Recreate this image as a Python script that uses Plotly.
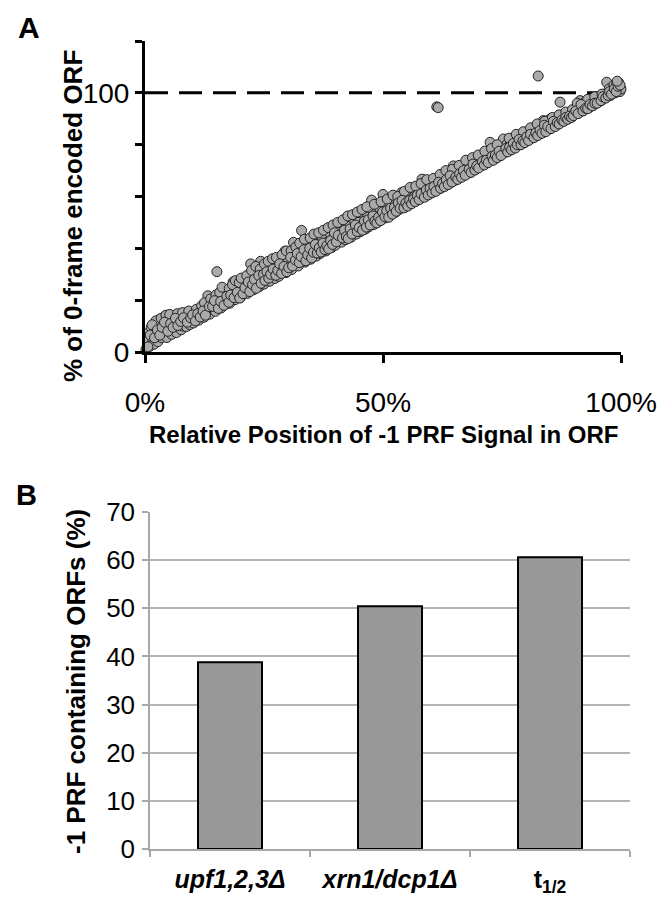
import plotly.graph_objects as go

# ---------------- Panel A data ----------------
rel_pos = [
    0.2, 0.5, 0.8, 1.0, 1.3, 1.6, 1.9, 2.1, 2.4, 2.7, 3.0, 3.2, 3.5, 3.8, 4.0, 4.3, 4.6, 5.0, 5.3, 5.6,
    6.0, 6.2, 6.6, 7.0, 7.3, 7.6, 8.0, 8.4, 8.7, 9.0, 9.4, 9.8, 10.2, 10.5, 10.9, 11.3, 11.7, 12.0, 12.4, 12.8,
    13.2, 13.3, 13.6, 14.0, 14.4, 14.8, 15.1, 15.2, 15.6, 16.0, 16.4, 16.8, 17.0, 17.4, 17.8, 18.2, 18.5, 18.9, 19.2, 19.6,
    20.0, 20.4, 20.8, 21.2, 21.5, 21.9, 22.2, 22.5, 22.8, 23.2, 23.6, 24.0, 24.3, 24.6, 25.0, 25.4, 25.8, 26.2, 26.6, 27.0,
    27.3, 27.7, 28.1, 28.5, 28.9, 29.4, 29.6, 30.0, 30.4, 30.8, 31.2, 31.4, 31.8, 32.2, 32.6, 32.9, 33.2, 33.6, 34.0, 34.4,
    34.8, 35.2, 35.6, 36.0, 36.4, 36.8, 37.2, 37.6, 38.0, 38.4, 38.8, 39.2, 39.6, 40.0, 40.4, 40.8, 41.0, 41.3, 41.7, 42.1,
    42.5, 42.9, 43.3, 43.8, 44.0, 44.4, 44.8, 45.2, 45.5, 45.9, 46.3, 46.7, 47.0, 47.6, 47.7, 48.1, 48.5, 48.9, 49.3, 49.7,
    50.0, 50.2, 50.6, 51.0, 51.4, 51.8, 52.2, 52.6, 53.0, 53.4, 53.9, 54.2, 54.6, 55.0, 55.4, 55.8, 56.2, 56.6, 57.0, 57.4,
    57.8, 58.2, 58.5, 58.9, 59.3, 59.7, 60.1, 60.5, 60.9, 61.3, 61.6, 61.5, 61.9, 62.3, 62.7, 63.1, 63.5, 63.9, 64.3, 64.8,
    65.1, 65.5, 65.9, 66.3, 66.7, 67.1, 67.6, 67.9, 68.3, 68.7, 69.1, 69.5, 69.9, 70.4, 70.7, 71.1, 71.5, 71.9, 72.5, 72.6,
    73.0, 73.4, 73.8, 74.2, 74.6, 75.0, 75.3, 75.6, 76.0, 76.4, 76.8, 77.2, 77.6, 78.0, 78.4, 78.8, 79.2, 79.6, 80.0, 80.4,
    80.8, 81.2, 81.5, 81.9, 82.3, 82.6, 82.8, 83.2, 83.7, 84.0, 84.4, 84.8, 85.1, 85.5, 86.0, 86.4, 86.8, 87.2, 87.3, 87.8,
    88.2, 88.6, 89.0, 89.4, 89.8, 90.3, 90.8, 91.2, 91.4, 91.8, 92.2, 92.4, 92.8, 93.3, 93.7, 94.2, 94.9, 95.3, 95.6, 96.0,
    96.5, 97.0, 97.0, 97.5, 97.8, 98.3, 98.5, 98.8, 99.1, 99.3, 99.6, 99.8, 100.0, 99.5,
]
pct_encoded = [
    1.0, 4.0, 7.5, 2.2, 9.5, 5.0, 3.0, 11.0, 7.0, 4.0, 12.5, 9.0, 5.5, 11.0, 13.5, 7.5, 5.6, 10.0, 13.0, 6.8,
    14.0, 9.0, 7.5, 11.5, 13.8, 8.6, 10.0, 15.0, 9.8, 12.8, 10.6, 14.2, 11.2, 15.0, 13.0, 12.3, 16.3, 14.0, 13.4, 17.0,
    21.7, 15.2, 14.6, 19.0, 16.5, 15.7, 31.0, 20.5, 17.5, 17.0, 22.0, 24.0, 18.5, 20.0, 18.8, 23.0, 27.0, 20.2, 25.0, 21.5,
    21.0, 26.0, 23.5, 28.0, 22.6, 25.0, 34.0, 29.0, 24.0, 26.5, 31.0, 25.2, 35.0, 28.5, 26.2, 32.0, 29.0, 27.3, 34.5, 30.5,
    28.4, 33.0, 29.2, 36.0, 31.5, 38.9, 30.6, 35.0, 33.0, 31.8, 42.3, 37.5, 34.0, 33.2, 39.0, 46.9, 36.0, 34.7, 41.0, 38.0,
    35.8, 43.0, 39.5, 37.0, 41.0, 38.0, 44.5, 40.0, 39.0, 42.5, 46.0, 40.3, 44.0, 41.2, 47.5, 43.0, 49.9, 42.4, 45.5, 43.3,
    48.5, 46.0, 44.3, 51.2, 47.5, 45.5, 50.0, 46.4, 54.0, 49.0, 47.4, 52.0, 48.3, 58.6, 50.5, 49.2, 53.5, 50.2, 55.5, 51.0,
    60.8, 53.0, 51.8, 56.0, 52.8, 54.5, 58.0, 53.9, 56.5, 55.0, 61.5, 57.0, 56.0, 59.5, 56.8, 61.0, 57.8, 60.0, 58.4, 62.0,
    59.2, 66.7, 61.5, 60.2, 64.0, 61.0, 62.5, 65.5, 62.2, 94.6, 94.3, 64.0, 63.0, 67.0, 64.2, 65.5, 68.5, 65.0, 67.0, 71.8,
    66.2, 69.0, 67.0, 70.5, 68.0, 69.5, 73.1, 69.0, 72.0, 70.0, 71.5, 70.6, 73.5, 74.4, 72.0, 73.0, 75.5, 73.0, 80.9, 76.0,
    74.2, 77.0, 75.0, 78.5, 76.0, 79.0, 82.2, 77.0, 80.0, 77.8, 81.0, 79.0, 82.0, 79.2, 81.5, 80.2, 83.0, 81.0, 84.5, 82.0,
    83.5, 82.5, 86.0, 83.3, 85.0, 106.5, 84.0, 87.0, 89.3, 85.3, 88.0, 86.0, 89.9, 87.2, 88.5, 87.6, 90.0, 96.4, 88.5, 90.5,
    89.4, 91.5, 90.2, 92.0, 91.0, 92.5, 95.0, 92.4, 97.0, 94.0, 93.3, 96.4, 95.0, 94.3, 96.0, 95.2, 96.4, 96.5, 97.7, 97.2,
    98.0, 98.5, 104.1, 101.5, 99.0, 100.9, 103.0, 100.0, 103.5, 101.0, 102.2, 100.5, 101.5, 104.0,
]
# more points from the dense middle of the band
rel_pos_band = [
    0.6, 1.1, 1.5, 2.0, 2.6, 3.1, 3.6, 4.1, 4.8, 5.4, 5.9, 6.4, 6.9, 7.5, 8.1, 8.9, 9.6, 10.0,
    10.6, 11.1, 11.6, 12.2, 12.7, 13.5, 14.2, 14.6, 15.4, 15.9, 16.6, 17.2, 17.6, 18.0, 18.7, 19.4, 19.9,
    20.6, 21.0, 21.7, 22.0, 22.6, 23.0, 23.4, 23.9, 24.4, 24.9, 25.2, 25.6, 26.0, 26.4, 26.9, 27.5, 27.9, 28.3, 28.7, 29.2, 29.8,
    30.2, 30.6, 31.0, 31.6, 32.0, 32.4, 32.8, 33.4, 33.8, 34.2, 34.6, 35.0, 35.4, 35.8, 36.2, 36.6, 37.0, 37.4, 37.8, 38.2,
    38.6, 39.0, 39.4, 39.8,
    40.2, 40.6, 41.5, 41.9, 42.3, 42.7, 43.1, 43.5, 44.2, 44.6, 45.0, 45.7, 46.1, 46.5, 46.9, 47.3, 47.9, 48.3, 48.7, 49.1,
    49.5, 49.9,
    50.4, 50.8, 51.2, 51.6, 52.0, 52.4, 52.8, 53.2, 53.6, 54.0, 54.4, 54.8, 55.2, 55.6, 56.0, 56.4, 56.8, 57.2, 57.6, 58.0,
    58.7, 59.1, 59.5, 59.9,
    60.3, 60.7, 61.1, 61.7, 62.1, 62.5, 62.9, 63.3, 63.7, 64.1, 64.5, 65.3, 65.7, 66.1, 66.5, 66.9, 67.3, 68.1, 68.5, 68.9,
    69.3, 69.7, 70.1, 70.9, 71.3, 71.7, 72.1, 72.9, 73.2, 73.6, 74.0, 74.4, 74.8, 75.8, 76.2, 76.6, 77.0, 77.4, 77.8, 78.2,
    78.6, 79.0, 79.4, 79.8,
    80.2, 80.6, 81.0, 81.7, 82.1, 82.5, 83.0, 83.4, 83.9, 84.2, 84.6, 85.3, 85.8, 86.2, 86.6, 87.0, 87.6, 88.0, 88.4, 88.8,
    89.2, 89.6, 90.0, 90.5, 91.0, 91.6, 92.0, 92.6, 93.0, 93.5, 94.0, 94.5, 95.0, 95.8, 96.2, 96.8, 97.3, 97.6, 98.0, 98.6,
    99.0, 99.4, 99.8, 99.2,
]
pct_encoded_band = [
    2.0, 6.5, 10.5, 5.5, 8.5, 6.5, 9.5, 11.5, 8.0, 11.0, 9.5, 13.0, 10.2, 11.8, 13.2, 11.5, 13.2, 14.3,
    12.0, 14.8, 13.5, 15.8, 14.2, 17.5, 17.6, 19.8, 16.8, 19.5, 18.0, 21.5, 19.2, 22.0, 21.0, 23.0, 20.8,
    22.5, 24.8, 27.0, 23.3, 26.0, 28.0, 24.6, 29.5, 26.5, 30.0, 27.6, 31.0, 28.5, 30.0, 32.0, 29.6, 31.5, 34.0, 30.3, 33.0, 31.0,
    32.5, 36.5, 33.2, 35.5, 38.0, 34.5, 36.8, 39.5, 35.2, 37.5, 40.0, 36.3, 38.5, 41.5, 38.2, 40.2, 38.6, 42.0, 39.5, 41.0,
    39.8, 43.0, 41.5, 46.0,
    42.5, 45.0, 44.0, 47.0, 44.5, 43.8, 47.5, 45.5, 49.0, 46.5, 48.0, 47.0, 50.5, 48.2, 51.0, 49.0, 52.5, 50.5, 49.8, 52.0,
    50.7, 54.0,
    52.2, 54.5, 52.0, 55.5, 53.2, 55.8, 54.3, 57.5, 55.5, 58.5, 55.6, 57.5, 56.3, 58.5, 57.2, 59.0, 58.0, 60.5, 58.8, 61.0,
    59.7, 62.5, 60.6, 63.2,
    61.4, 63.8, 62.0, 65.5, 63.2, 65.0, 63.8, 66.5, 64.6, 68.0, 65.6, 67.5, 66.6, 68.8, 67.4, 70.0, 68.2, 70.5, 69.3, 72.5,
    70.2, 71.8, 71.0, 73.5, 72.2, 74.0, 73.1, 75.5, 74.0, 76.0, 75.0, 77.5, 75.8, 78.5, 77.2, 79.0, 78.0, 80.5, 78.7, 80.0,
    82.0, 80.0, 81.5, 80.8,
    83.0, 81.6, 84.0, 82.7, 84.5, 83.5, 85.5, 84.4, 87.5, 85.0, 87.0, 86.2, 89.0, 87.0, 88.5, 88.0, 89.5, 89.0, 90.5, 89.8,
    91.0, 90.5, 91.2, 93.0, 92.0, 95.5, 93.0, 94.0, 93.9, 95.5, 95.0, 96.0, 96.0, 97.0, 98.5, 98.0, 99.0, 100.5, 99.5, 101.5,
    100.5, 102.5, 103.0, 104.5,
]
# points along the upper, ragged edge of the band
rel_pos_upper = [
    2.3, 3.4, 4.4, 5.2, 6.8, 7.9, 9.2,
    10.8, 11.9, 12.5, 13.8, 14.9, 15.7, 16.2, 17.7, 18.4, 19.0, 19.8,
    20.2, 21.4, 22.4, 23.3, 24.2, 25.1, 25.9, 26.8, 27.6, 28.8, 29.7,
    30.7, 31.7, 32.5, 33.5, 34.7, 35.5, 36.5, 37.5, 38.5, 39.5,
    40.5, 41.6, 42.6, 43.6, 44.6, 45.6, 46.6, 48.2, 49.6,
    50.9, 52.1, 53.1, 54.5, 55.7, 56.9, 58.0, 59.2,
    60.6, 62.0, 63.2, 64.6, 66.0, 67.4, 68.8, 70.0, 71.4, 72.8, 74.0,
    76.5, 78.0, 79.5, 81.0, 82.4, 84.0, 85.6, 87.0, 88.4, 89.8,
    90.8, 93.0, 94.5, 96.0,
]
pct_encoded_upper = [
    12.0, 13.0, 14.2, 14.5, 14.8, 15.2, 15.8,
    16.5, 17.8, 19.0, 20.5, 22.0, 23.0, 25.0, 24.5, 26.0, 27.5, 26.8,
    28.5, 29.5, 31.5, 33.0, 32.0, 34.0, 35.0, 36.0, 36.5, 37.5, 39.0,
    39.0, 40.5, 42.0, 43.5, 44.0, 45.5, 46.0, 47.0, 48.0, 49.0,
    50.0, 51.0, 52.5, 53.0, 54.0, 55.0, 56.0, 57.0, 58.0,
    59.0, 60.5, 60.0, 62.0, 63.5, 64.0, 65.0, 66.5,
    67.0, 68.5, 70.0, 70.5, 72.0, 74.0, 75.0, 76.0, 77.5, 78.5, 80.0,
    82.5, 84.0, 85.0, 86.5, 88.0, 89.0, 90.5, 91.5, 92.6, 93.5,
    96.0, 97.5, 98.5, 99.5,
]
ref_x = [0, 100]
ref_y = [100, 100]
a_xticks = [0, 50, 100]
a_xtick_text = ["0%", "50%", "100%"]
a_yticks = [0, 100]
a_ytick_text = ["0", "100"]
a_yminor = [20, 40, 60, 80, 120]

# ---------------- Panel B data ----------------
categories = ["upf1,2,3Δ", "xrn1/dcp1Δ", "t1/2"]
cat_labels = ["<b><i>upf1,2,3Δ</i></b>", "<b><i>xrn1/dcp1Δ</i></b>", "<b>t<sub>1/2</sub></b>"]
prf_pct = [38.8, 50.4, 60.6]

# The page body puts the figure 8 px in from the window's top-left corner; the
# figure is sized so that the page does not overflow the 672x904 window.
OFF = 8
W, H = 656, 888
FONT = "Liberation Sans, Arial, Helvetica, sans-serif"


def fx(p):
    return (p - OFF) / W


def fy(p):
    return 1 - (p - OFF) / H


fig = go.Figure()
fig.add_trace(go.Scatter(
    x=ref_x, y=ref_y, mode="lines",
    line=dict(color="black", width=3, dash="23px,11px"),
    xaxis="x", yaxis="y", hoverinfo="skip", showlegend=False))
fig.add_trace(go.Scatter(
    x=rel_pos + rel_pos_upper + rel_pos_band,
    y=pct_encoded + pct_encoded_upper + pct_encoded_band, mode="markers",
    marker=dict(size=10, color="#aaaaaa", line=dict(color="#222222", width=1)),
    cliponaxis=False, xaxis="x", yaxis="y", showlegend=False))
fig.add_trace(go.Bar(
    x=categories, y=prf_pct, width=0.4,
    marker=dict(color="#999999", line=dict(color="black", width=2)),
    xaxis="x2", yaxis="y2", showlegend=False))

fig.update_layout(
    width=W, height=H,
    margin=dict(l=0, r=0, t=0, b=0, pad=0, autoexpand=False),
    paper_bgcolor="white", plot_bgcolor="white",
    font=dict(family=FONT, color="black"),
    xaxis=dict(
        domain=[fx(145), fx(621)], range=[0, 100], anchor="y", automargin=False,
        showline=True, linecolor="black", linewidth=3,
        ticks="outside", ticklen=8, tickwidth=3, tickcolor="black",
        tickvals=a_xticks, ticktext=a_xtick_text, tickangle=0,
        tickfont=dict(size=28), ticklabelstandoff=15,
        showgrid=False, zeroline=False,
    ),
    yaxis=dict(
        domain=[fy(352), fy(41)], range=[0, 120], anchor="x", automargin=False,
        showline=True, linecolor="black", linewidth=3,
        ticks="outside", ticklen=7, tickwidth=3, tickcolor="black",
        tickvals=a_yticks, ticktext=a_ytick_text,
        minor=dict(tickvals=a_yminor, ticks="outside", ticklen=7, tickwidth=3,
                   tickcolor="black", showgrid=False),
        tickfont=dict(size=28), ticklabelstandoff=0,
        showgrid=False, zeroline=False,
    ),
    xaxis2=dict(
        domain=[fx(150), fx(630)], anchor="y2", type="category", automargin=False,
        showline=True, linecolor="#a8a8a8", linewidth=1.5,
        ticks="outside", tickson="boundaries", ticklen=6, tickwidth=1.5, tickcolor="#a8a8a8",
        tickvals=categories, ticktext=cat_labels, tickangle=0,
        tickfont=dict(size=25), ticklabelstandoff=7,
        showgrid=False, zeroline=False,
    ),
    yaxis2=dict(
        domain=[fy(849), fy(512)], range=[0, 70], anchor="x2", automargin=False,
        tick0=0, dtick=10,
        showline=True, linecolor="#a8a8a8", linewidth=1.5,
        ticks="outside", ticklen=6, tickwidth=1.5, tickcolor="#a8a8a8",
        tickfont=dict(size=26), ticklabelstandoff=2,
        showgrid=True, gridcolor="#b4b4b4", gridwidth=1.5, zeroline=False,
    ),
    annotations=[
        dict(text="<b>A</b>", x=fx(29), y=fy(28), xref="paper", yref="paper",
             xanchor="center", yanchor="middle", showarrow=False, font=dict(size=30)),
        dict(text="<b>B</b>", x=fx(26), y=fy(495), xref="paper", yref="paper",
             xanchor="center", yanchor="middle", showarrow=False, font=dict(size=29)),
        dict(text="<b>% of 0-frame encoded ORF</b>", x=fx(73), y=fy(216), xref="paper", yref="paper",
             xanchor="center", yanchor="middle", textangle=-90, showarrow=False, font=dict(size=26)),
        dict(text="<b>Relative Position of -1 PRF Signal in ORF</b>", x=fx(384), y=fy(434),
             xref="paper", yref="paper", xanchor="center", yanchor="middle",
             showarrow=False, font=dict(size=24)),
        dict(text="<b>-1 PRF containing ORFs (%)</b>", x=fx(76), y=fy(682), xref="paper", yref="paper",
             xanchor="center", yanchor="middle", textangle=-90, showarrow=False, font=dict(size=26)),
    ],
)

fig.write_html("out.html")
